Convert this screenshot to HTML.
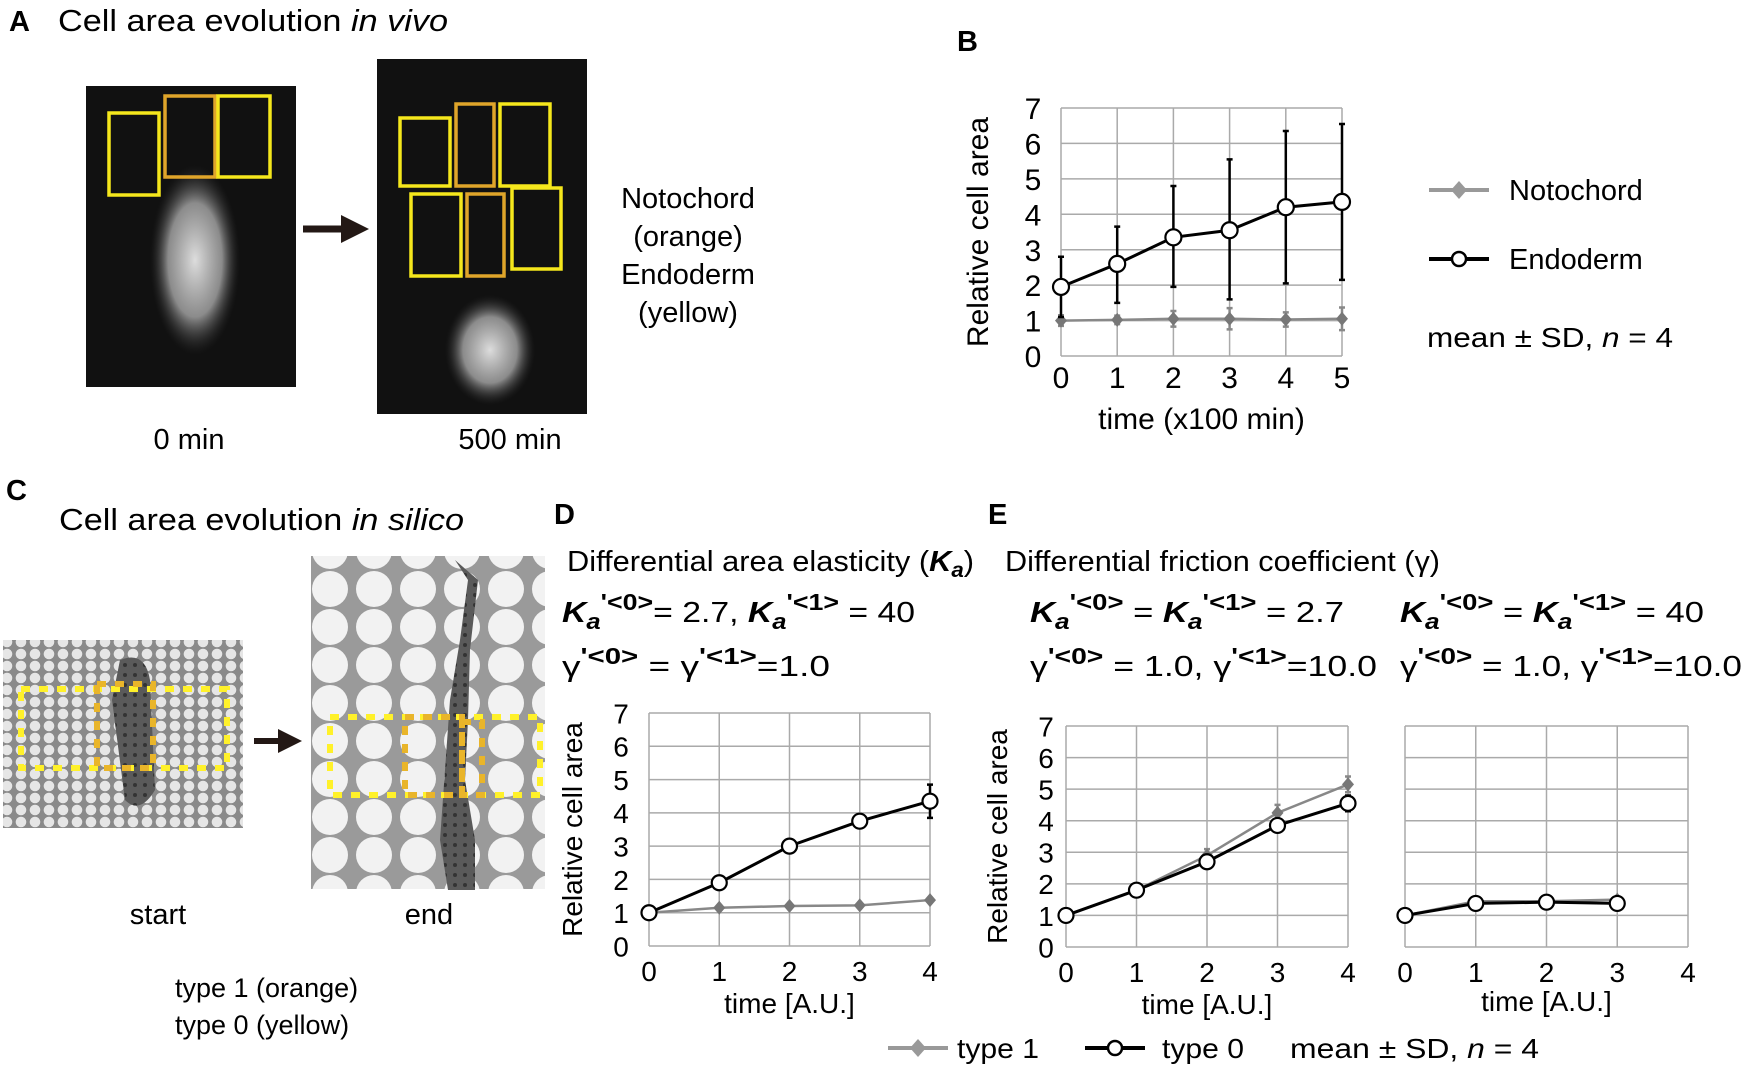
<!DOCTYPE html>
<html><head><meta charset="utf-8"><style>
html,body{margin:0;padding:0;background:#fff;}
svg{display:block;font-family:"Liberation Sans",sans-serif;}
</style></head><body>
<svg id="fig" width="1746" height="1067" viewBox="0 0 1746 1067" xmlns="http://www.w3.org/2000/svg">
<defs>
<radialGradient id="glow" cx="0.5" cy="0.5" r="0.5"><stop offset="0" stop-color="#ddd"/><stop offset="0.6" stop-color="#aaa" stop-opacity="0.8"/><stop offset="1" stop-color="#333" stop-opacity="0"/></radialGradient>
<pattern id="cellsS" width="14" height="12" patternUnits="userSpaceOnUse"><rect width="14" height="12" fill="#8a8a8a"/><circle cx="7" cy="6" r="5.3" fill="#e6e6e6"/></pattern>
<pattern id="cellsL" width="44" height="38" patternUnits="userSpaceOnUse"><rect width="44" height="38" fill="#9a9a9a"/><circle cx="22" cy="19" r="18" fill="#f2f2f2"/><circle cx="0" cy="0" r="4" fill="#9a9a9a"/></pattern>
<pattern id="dark" width="10" height="10" patternUnits="userSpaceOnUse"><rect width="10" height="10" fill="#5a5a5a"/><circle cx="5" cy="5" r="2" fill="#333"/></pattern>
<marker id="arrowhead" markerWidth="4" markerHeight="4" refX="2" refY="2" orient="auto"><path d="M0,0 L4,2 L0,4 Z" fill="#231815"/></marker>
</defs>

<!-- Panel A -->
<text x="9" y="31" font-size="29" font-weight="bold">A</text>
<text x="58" y="31" font-size="31" textLength="390" lengthAdjust="spacingAndGlyphs">Cell area evolution <tspan font-style="italic">in vivo</tspan></text>
<g>
<rect x="86" y="86" width="210" height="301" fill="#111"/>
<ellipse cx="195" cy="260" rx="45" ry="95" fill="url(#glow)"/>
<rect x="109" y="113" width="50" height="82" fill="none" stroke="#f5e71c" stroke-width="3.5"/>
<rect x="165" y="96" width="50" height="81" fill="none" stroke="#e0a52a" stroke-width="3.5"/>
<rect x="218" y="96" width="52" height="81" fill="none" stroke="#f5e71c" stroke-width="3.5"/>
</g>
<line x1="303" y1="229" x2="355" y2="229" stroke="#231815" stroke-width="7" marker-end="url(#arrowhead)"/>
<g>
<rect x="377" y="59" width="210" height="355" fill="#111"/>
<ellipse cx="490" cy="350" rx="45" ry="55" fill="url(#glow)"/>
<rect x="400" y="118" width="50" height="68" fill="none" stroke="#f5e71c" stroke-width="3.5"/>
<rect x="456" y="104" width="38" height="82" fill="none" stroke="#e0a52a" stroke-width="3.5"/>
<rect x="500" y="104" width="50" height="82" fill="none" stroke="#f5e71c" stroke-width="3.5"/>
<rect x="411" y="194" width="50" height="82" fill="none" stroke="#f5e71c" stroke-width="3.5"/>
<rect x="467" y="194" width="37" height="82" fill="none" stroke="#e0a52a" stroke-width="3.5"/>
<rect x="512" y="188" width="49" height="81" fill="none" stroke="#f5e71c" stroke-width="3.5"/>
</g>
<g font-size="29" text-anchor="middle">
<text x="688" y="208">Notochord</text><text x="688" y="246">(orange)</text>
<text x="688" y="284">Endoderm</text><text x="688" y="322">(yellow)</text>
</g>
<text x="189" y="449" font-size="29" text-anchor="middle">0 min</text>
<text x="510" y="449" font-size="29" text-anchor="middle">500 min</text>

<!-- Panel B -->
<text x="957" y="51" font-size="29" font-weight="bold">B</text>
<g id="chartB"></g>

<!-- Panel C -->
<text x="6" y="500" font-size="29" font-weight="bold">C</text>
<text x="59" y="530" font-size="31" textLength="405" lengthAdjust="spacingAndGlyphs">Cell area evolution <tspan font-style="italic">in silico</tspan></text>
<g>
<rect x="3" y="640" width="240" height="188" fill="url(#cellsS)"/>
<path d="M120,660 Q145,650 150,680 L155,790 Q140,815 125,800 L112,700 Z" fill="url(#dark)"/>
<rect x="21" y="689" width="206" height="79" fill="none" stroke="#fff12a" stroke-width="6" stroke-dasharray="9,9"/>
<rect x="97" y="684" width="56" height="84" fill="none" stroke="#e9b52a" stroke-width="6" stroke-dasharray="9,9"/>
</g>
<line x1="254" y1="741" x2="290" y2="741" stroke="#231815" stroke-width="6" marker-end="url(#arrowhead)"/>
<g>
<rect x="311" y="556" width="234" height="333" fill="url(#cellsL)"/>
<path d="M455,560 L468,580 L460,640 L450,700 L445,770 L440,840 L448,890 L475,890 L475,840 L465,780 L468,720 L470,650 L478,580 Z" fill="url(#dark)"/>
<rect x="330" y="717" width="210" height="78" fill="none" stroke="#fff12a" stroke-width="6" stroke-dasharray="9,9"/>
<rect x="405" y="717" width="57" height="78" fill="none" stroke="#e9b52a" stroke-width="6" stroke-dasharray="9,9"/>
<rect x="462" y="722" width="20" height="73" fill="none" stroke="#e9b52a" stroke-width="6" stroke-dasharray="9,9"/>
</g>
<text x="158" y="924" font-size="29" text-anchor="middle">start</text>
<text x="429" y="924" font-size="29" text-anchor="middle">end</text>
<text x="175" y="997" font-size="27">type 1 (orange)</text>
<text x="175" y="1034" font-size="27">type 0 (yellow)</text>

<!-- Panel D/E headers -->
<text x="554" y="524" font-size="29" font-weight="bold">D</text>
<text x="988" y="524" font-size="29" font-weight="bold">E</text>
<text x="567" y="571" font-size="29" textLength="407" lengthAdjust="spacingAndGlyphs">Differential area elasticity (<tspan font-weight="bold" font-style="italic">K</tspan><tspan font-weight="bold" font-style="italic" font-size="21" dy="6">a</tspan><tspan dy="-6">)</tspan></text>
<text x="562" y="622" font-size="29" textLength="353" lengthAdjust="spacingAndGlyphs"><tspan font-weight="bold" font-style="italic">K</tspan><tspan font-weight="bold" font-style="italic" font-size="22" dy="7">a</tspan><tspan font-weight="bold" font-size="23" dy="-19">'&lt;0&gt;</tspan><tspan dy="12">= 2.7, </tspan><tspan font-weight="bold" font-style="italic">K</tspan><tspan font-weight="bold" font-style="italic" font-size="22" dy="7">a</tspan><tspan font-weight="bold" font-size="23" dy="-19">'&lt;1&gt;</tspan><tspan dy="12"> = 40</tspan></text>
<text x="562" y="676" font-size="29" textLength="268" lengthAdjust="spacingAndGlyphs"><tspan>γ</tspan><tspan font-weight="bold" font-size="23" dy="-12">'&lt;0&gt;</tspan><tspan dy="12"> = γ</tspan><tspan font-weight="bold" font-size="23" dy="-12">'&lt;1&gt;</tspan><tspan dy="12">=1.0</tspan></text>
<text x="1005" y="571" font-size="29" textLength="435" lengthAdjust="spacingAndGlyphs">Differential friction coefficient (γ)</text>
<text x="1030" y="622" font-size="29" textLength="314" lengthAdjust="spacingAndGlyphs"><tspan font-weight="bold" font-style="italic">K</tspan><tspan font-weight="bold" font-style="italic" font-size="22" dy="7">a</tspan><tspan font-weight="bold" font-size="23" dy="-19">'&lt;0&gt;</tspan><tspan dy="12"> = </tspan><tspan font-weight="bold" font-style="italic">K</tspan><tspan font-weight="bold" font-style="italic" font-size="22" dy="7">a</tspan><tspan font-weight="bold" font-size="23" dy="-19">'&lt;1&gt;</tspan><tspan dy="12"> = 2.7</tspan></text>
<text x="1030" y="676" font-size="29" textLength="347" lengthAdjust="spacingAndGlyphs"><tspan>γ</tspan><tspan font-weight="bold" font-size="23" dy="-12">'&lt;0&gt;</tspan><tspan dy="12"> = 1.0, γ</tspan><tspan font-weight="bold" font-size="23" dy="-12">'&lt;1&gt;</tspan><tspan dy="12">=10.0</tspan></text>
<text x="1400" y="622" font-size="29" textLength="304" lengthAdjust="spacingAndGlyphs"><tspan font-weight="bold" font-style="italic">K</tspan><tspan font-weight="bold" font-style="italic" font-size="22" dy="7">a</tspan><tspan font-weight="bold" font-size="23" dy="-19">'&lt;0&gt;</tspan><tspan dy="12"> = </tspan><tspan font-weight="bold" font-style="italic">K</tspan><tspan font-weight="bold" font-style="italic" font-size="22" dy="7">a</tspan><tspan font-weight="bold" font-size="23" dy="-19">'&lt;1&gt;</tspan><tspan dy="12"> = 40</tspan></text>
<text x="1400" y="676" font-size="29" textLength="342" lengthAdjust="spacingAndGlyphs"><tspan>γ</tspan><tspan font-weight="bold" font-size="23" dy="-12">'&lt;0&gt;</tspan><tspan dy="12"> = 1.0, γ</tspan><tspan font-weight="bold" font-size="23" dy="-12">'&lt;1&gt;</tspan><tspan dy="12">=10.0</tspan></text>

<g id="chartD"></g>
<g id="chartE1"></g>
<g id="chartE2"></g>

<!-- B legend -->
<g>
<line x1="1429" y1="190" x2="1489" y2="190" stroke="#999" stroke-width="4"/>
<path d="M1459,181 L1467,190 L1459,199 L1451,190 Z" fill="#999"/>
<text x="1509" y="200" font-size="29">Notochord</text>
<line x1="1429" y1="259" x2="1489" y2="259" stroke="#000" stroke-width="4"/>
<circle cx="1459" cy="259" r="7" fill="#fff" stroke="#000" stroke-width="2.5"/>
<text x="1509" y="269" font-size="29">Endoderm</text>
<text x="1427" y="347" font-size="28" textLength="246" lengthAdjust="spacingAndGlyphs">mean ± SD, <tspan font-style="italic">n</tspan> = 4</text>
</g>
<!-- D/E legend -->
<g>
<line x1="888" y1="1048" x2="948" y2="1048" stroke="#999" stroke-width="4"/>
<path d="M918,1039 L926,1048 L918,1057 L910,1048 Z" fill="#999"/>
<text x="957" y="1058" font-size="28" textLength="82" lengthAdjust="spacingAndGlyphs">type 1</text>
<line x1="1085" y1="1048" x2="1145" y2="1048" stroke="#000" stroke-width="4"/>
<circle cx="1115" cy="1048" r="7" fill="#fff" stroke="#000" stroke-width="2.5"/>
<text x="1162" y="1058" font-size="28" textLength="82" lengthAdjust="spacingAndGlyphs">type 0</text>
<text x="1290" y="1058" font-size="28" textLength="249" lengthAdjust="spacingAndGlyphs">mean ± SD, <tspan font-style="italic">n</tspan> = 4</text>
</g>
</svg>
<script>
// Chart B data
const bTimes = [0,1,2,3,4,5];
const bEndoMean = [1.95,2.6,3.35,3.55,4.2,4.35];
const bEndoUpper = [2.8,3.65,4.8,5.55,6.35,6.55];
const bEndoLower = [1.1,1.5,1.95,1.6,2.05,2.15];
const bNotoMean = [1.0,1.02,1.05,1.05,1.03,1.05];
const bNotoSD = [0.15,0.12,0.22,0.3,0.2,0.32];
const yTicks = [0,1,2,3,4,5,6,7];
// Chart D data
const dTimes = [0,1,2,3,4];
const dType0 = [1.0,1.9,3.0,3.75,4.35];
const dType0SD = [0.05,0.08,0.08,0.2,0.5];
const dType1 = [1.0,1.15,1.2,1.22,1.38];
const dType1SD = [0.03,0.05,0.05,0.05,0.06];
// Chart E1 data
const e1Times = [0,1,2,3,4];
const e1Type0 = [1.0,1.8,2.7,3.85,4.55];
const e1Type0SD = [0.03,0.05,0.1,0.2,0.25];
const e1Type1 = [1.0,1.8,2.9,4.25,5.15];
const e1Type1SD = [0.03,0.05,0.2,0.25,0.25];
// Chart E2 data
const e2Times = [0,1,2,3];
const e2Type0 = [1.0,1.38,1.42,1.38];
const e2Type1 = [1.0,1.45,1.45,1.5];
const xTicks5 = [0,1,2,3,4];
const xTicks6 = [0,1,2,3,4,5];

const NS='http://www.w3.org/2000/svg';
function mk(parent,tag,attrs){const e=document.createElementNS(NS,tag);for(const k in attrs)e.setAttribute(k,attrs[k]);parent.appendChild(e);return e;}

function chart(gid,o){
  const g=document.getElementById(gid);
  const sx=v=>o.x0+(v-o.xmin)/(o.xmax-o.xmin)*(o.x1-o.x0);
  const sy=v=>o.y0-(v/7)*(o.y0-o.y1);
  yTicks.forEach(t=>{
    const l=mk(g,'line',{x1:o.x0,x2:o.x1,y1:sy(t),y2:sy(t),stroke:'#aaa','stroke-width':1.5});
    
    
    if(o.yLabels){
      const tx=mk(g,'text',{x:o.x0-o.ylabOff,y:sy(t)+o.fs*0.37,'font-size':o.fs,'text-anchor':'middle'});
      tx.textContent=t;
      
      
    }
  });
  o.xticks.forEach(t=>{
    const l=mk(g,'line',{x1:sx(t),x2:sx(t),y1:o.y1,y2:o.y0,stroke:'#aaa','stroke-width':1.5});
    
    
    const tx=mk(g,'text',{x:sx(t),y:o.y0+o.xlabOff,'font-size':o.fs,'text-anchor':'middle'});
    tx.textContent=t;
    
    
  });
  if(o.ytitle){
    const yt=mk(g,'text',{x:0,y:0,'font-size':o.fs,'text-anchor':'middle',transform:`translate(${o.ytx},${(o.y0+o.y1)/2}) rotate(-90)`});
    yt.textContent=o.ytitle;
    
    
  }
  const xt=mk(g,'text',{x:(o.x0+o.x1)/2,y:o.y0+o.xtOff,'font-size':o.fs,'text-anchor':'middle'});
  xt.textContent=o.xtitle;
  
  
  o.series.forEach(s=>{
    const col=s.gray?'#888':'#000';
    if(s.lo){
      s.x.forEach((x,i)=>{
        const lo=s.lo[i],hi=s.hi[i];
        const e=mk(g,'path',{d:`M${sx(x)},${sy(lo)}V${sy(hi)}M${sx(x)-3},${sy(lo)}h6M${sx(x)-3},${sy(hi)}h6`,stroke:col,'stroke-width':2.5,fill:'none'});
        
        
      });
    }
    const pl=mk(g,'polyline',{points:s.x.map((x,i)=>sx(x)+','+sy(s.y[i])).join(' '),fill:'none',stroke:col,'stroke-width':s.gray?2.5:3});
    
    
    s.x.forEach((x,i)=>{
      let m;
      if(s.gray){m=mk(g,'path',{d:`M${sx(x)},${sy(s.y[i])-7}l6,7l-6,7l-6,-7z`,fill:'#777'});}
      else{m=mk(g,'circle',{cx:sx(x),cy:sy(s.y[i]),r:s.r||7.5,fill:'#fff',stroke:'#000','stroke-width':2.2});}
      
      
    });
  });
}
function band(m,sd,k){return m.map((v,i)=>v+k*sd[i]);}

chart('chartB',{x0:1061,x1:1342,y0:356,y1:108,xmin:0,xmax:5,xticks:xTicks6,yLabels:true,ylabOff:28,xlabOff:32,xtOff:73,fs:30,
  ytitle:'Relative cell area',ytx:988,xtitle:'time (x100 min)',
  series:[
    {name:'notochord',gray:true,x:bTimes,y:bNotoMean,lo:band(bNotoMean,bNotoSD,-1),hi:band(bNotoMean,bNotoSD,1)},
    {name:'endoderm',x:bTimes,y:bEndoMean,lo:bEndoLower,hi:bEndoUpper,r:8}
  ]});
chart('chartD',{x0:649,x1:930,y0:946,y1:713,xmin:0,xmax:4,xticks:xTicks5,yLabels:true,ylabOff:28,xlabOff:35,xtOff:67,fs:28,
  ytitle:'Relative cell area',ytx:582,xtitle:'time [A.U.]',
  series:[
    {name:'type1',gray:true,x:dTimes,y:dType1,lo:band(dType1,dType1SD,-1),hi:band(dType1,dType1SD,1)},
    {name:'type0',x:dTimes,y:dType0,lo:band(dType0,dType0SD,-1),hi:band(dType0,dType0SD,1)}
  ]});
chart('chartE1',{x0:1066,x1:1348,y0:947,y1:726,xmin:0,xmax:4,xticks:xTicks5,yLabels:true,ylabOff:20,xlabOff:35,xtOff:67,fs:28,
  ytitle:'Relative cell area',ytx:1007,xtitle:'time [A.U.]',
  series:[
    {name:'type1',gray:true,x:e1Times,y:e1Type1,lo:band(e1Type1,e1Type1SD,-1),hi:band(e1Type1,e1Type1SD,1)},
    {name:'type0',x:e1Times,y:e1Type0,lo:band(e1Type0,e1Type0SD,-1),hi:band(e1Type0,e1Type0SD,1)}
  ]});
chart('chartE2',{x0:1405,x1:1688,y0:947,y1:726,xmin:0,xmax:4,xticks:xTicks5,yLabels:false,ylabOff:22,xlabOff:35,xtOff:64,fs:28,
  ytitle:null,xtitle:'time [A.U.]',
  series:[
    {name:'type1',gray:true,x:e2Times,y:e2Type1},
    {name:'type0',x:e2Times,y:e2Type0}
  ]});
</script>
</body></html>
